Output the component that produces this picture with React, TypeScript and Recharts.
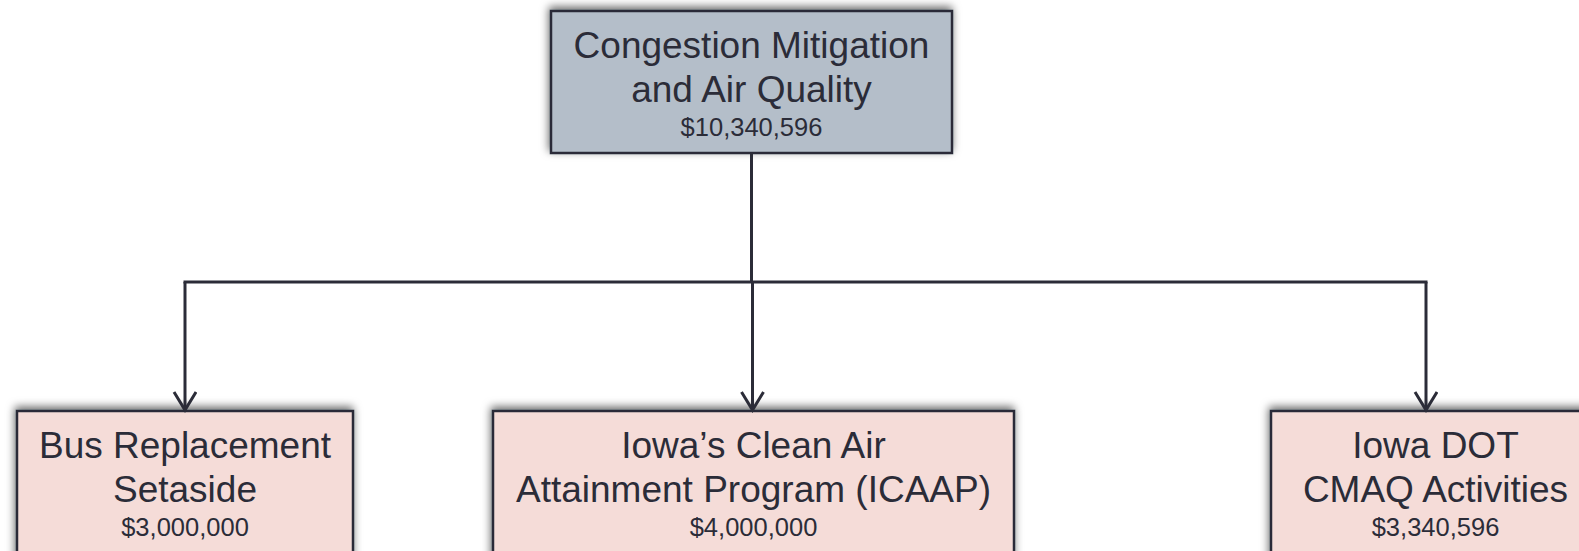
import React from "react";
import { ComposedChart, XAxis, YAxis, ReferenceArea, ReferenceLine } from "recharts";

// node text
const nodeTitles = [
  ["Congestion Mitigation", "and Air Quality"],
  ["Bus Replacement", "Setaside"],
  ["Iowa\u2019s Clean Air", "Attainment Program (ICAAP)"],
  ["Iowa DOT", "CMAQ Activities"],
];
const nodeAmounts = [10340596, 3000000, 4000000, 3340596];

// layout (pixel space of the axes)
const boxes = [
  { x1: 551, x2: 952, y1: 11, y2: 153, fill: "#b4bec9" },
  { x1: 17, x2: 353, y1: 411, y2: 580, fill: "#f5dcd8" },
  { x1: 493, x2: 1014, y1: 411, y2: 580, fill: "#f5dcd8" },
  { x1: 1271, x2: 1600, y1: 411, y2: 580, fill: "#f5dcd8" },
];
const trunk = { x: 751.5, y1: 153, y2: 282 };
const bus = { y: 282, x1: 185, x2: 1426 };
const arrowX = [185, 752.5, 1426];
const arrowEnd = 410;

const W = 1579;
const H = 551;
const INK = "#2b2c38";

const fmt = (v: number) => "$" + v.toLocaleString("en-US");

const NodeLabel = ({ viewBox, lines, amount }: any) => {
  const cx = viewBox.x + viewBox.width / 2;
  const top = viewBox.y;
  return (
    <text textAnchor="middle" fill={INK} fontFamily="'Liberation Sans', Arial, sans-serif">
      <tspan x={cx} y={top + 47} fontSize={37}>{lines[0]}</tspan>
      <tspan x={cx} y={top + 91} fontSize={37}>{lines[1]}</tspan>
      <tspan x={cx} y={top + 125} fontSize={25.5}>{fmt(amount)}</tspan>
    </text>
  );
};

const BoxShape = (fill: string) => (p: any) => (
  <rect
    x={p.x}
    y={p.y}
    width={p.width}
    height={p.height}
    fill={fill}
    stroke={INK}
    strokeWidth={2.5}
    filter="url(#boxShadow)"
  />
);

const Connector = (arrow: boolean) => (p: any) => (
  <line
    x1={p.x1}
    y1={p.y1}
    x2={p.x2}
    y2={p.y2}
    stroke={INK}
    strokeWidth={3}
    markerEnd={arrow ? "url(#arrowHead)" : undefined}
  />
);

export default function App() {
  return (
    <div style={{ position: "absolute", left: 0, top: 0, background: "#fff" }}>
      <ComposedChart width={W} height={H} data={[]} margin={{ top: 0, right: 0, left: 0, bottom: 0 }}>
        <defs>
          <filter id="boxShadow" x="-10%" y="-20%" width="120%" height="140%">
            <feDropShadow dx={-1} dy={-3} stdDeviation={4} floodColor="#000" floodOpacity={0.6} />
          </filter>
          <marker
            id="arrowHead"
            markerUnits="userSpaceOnUse"
            markerWidth={26}
            markerHeight={26}
            viewBox="0 0 26 26"
            refX={19}
            refY={12}
            orient="auto"
          >
            <path d="M1,1 L19,12 L1,23" fill="none" stroke={INK} strokeWidth={3} />
          </marker>
        </defs>
        <XAxis type="number" dataKey="x" domain={[0, W]} hide allowDataOverflow />
        <YAxis type="number" domain={[0, H]} reversed hide allowDataOverflow />

        <ReferenceLine
          segment={[{ x: trunk.x, y: trunk.y1 }, { x: trunk.x, y: trunk.y2 }]}
          ifOverflow="visible"
          shape={Connector(false)}
        />
        <ReferenceLine
          segment={[{ x: bus.x1 - 1.5, y: bus.y }, { x: bus.x2 + 1.5, y: bus.y }]}
          ifOverflow="visible"
          shape={Connector(false)}
        />
        {arrowX.map((x, i) => (
          <ReferenceLine
            key={"a" + i}
            segment={[{ x, y: bus.y }, { x, y: arrowEnd }]}
            ifOverflow="visible"
            shape={Connector(true)}
          />
        ))}

        {boxes.map((b, i) => (
          <ReferenceArea
            key={"b" + i}
            x1={b.x1}
            x2={b.x2}
            y1={b.y1}
            y2={b.y2}
            ifOverflow="visible"
            shape={BoxShape(b.fill)}
            label={(props: any) => (
              <NodeLabel viewBox={props.viewBox} lines={nodeTitles[i]} amount={nodeAmounts[i]} />
            )}
          />
        ))}
      </ComposedChart>
    </div>
  );
}
